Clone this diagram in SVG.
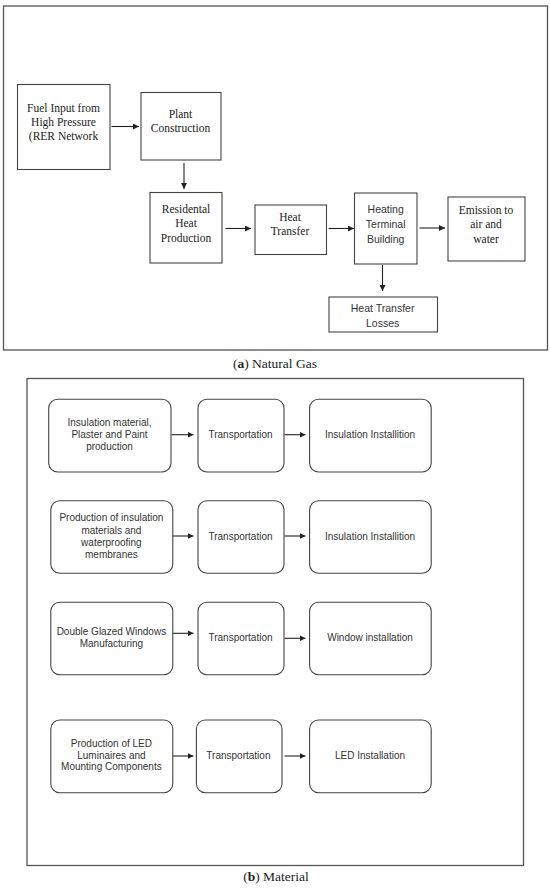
<svg xmlns="http://www.w3.org/2000/svg" width="550" height="889" viewBox="0 0 550 889">
<defs>
<marker id="ah" viewBox="0 0 10 10" refX="10" refY="5" markerWidth="6" markerHeight="6" markerUnits="userSpaceOnUse" orient="auto">
<path d="M0,0 L10,5 L0,10 z" fill="#222"/>
</marker>
<style>
.frame{fill:#fff;stroke:#555;stroke-width:1.3}
.box{fill:#fff;stroke:#444;stroke-width:1.1}
.rbox{fill:#fff;stroke:#444;stroke-width:1.1}
.con{stroke:#222;stroke-width:1.1;fill:none;marker-end:url(#ah)}
.serif{font-family:"Liberation Serif","Times New Roman",serif;font-size:11.5px;fill:#222;text-anchor:middle}
.sans{font-family:"Liberation Sans",Arial,sans-serif;font-size:10.5px;fill:#333;text-anchor:middle}
.sb{font-family:"Liberation Sans",Arial,sans-serif;font-size:10px;fill:#333;text-anchor:middle}
.cap{font-family:"Liberation Serif","Times New Roman",serif;font-size:13.5px;fill:#222;text-anchor:middle}
</style>
</defs>
<rect width="550" height="889" fill="#fff"/>

<g id="panel-a">
<rect class="frame" x="3.5" y="6" width="544" height="344"/>
</g>
<text class="cap" x="275" y="368">(<tspan font-weight="bold">a</tspan>) Natural Gas</text>

<g id="panel-b">
<rect class="frame" x="27" y="378.5" width="496.5" height="487"/>
</g>
<text class="cap" x="276" y="881">(<tspan font-weight="bold">b</tspan>) Material</text>

<g id="connectors">
<line class="con" x1="111.5" y1="126.5" x2="139" y2="126.5"/>
<line class="con" x1="184" y1="163" x2="184" y2="189"/>
<line class="con" x1="225.5" y1="228.5" x2="251" y2="228.5"/>
<line class="con" x1="328.5" y1="228.5" x2="354" y2="228.5"/>
<line class="con" x1="419.5" y1="228" x2="445" y2="228"/>
<line class="con" x1="382.5" y1="265" x2="382.5" y2="291"/>

<line class="con" x1="171.5" y1="434.7" x2="193.5" y2="434.7"/>
<line class="con" x1="284.5" y1="434.7" x2="305.5" y2="434.7"/>
<line class="con" x1="173" y1="536" x2="193.5" y2="536"/>
<line class="con" x1="284.5" y1="536" x2="305.5" y2="536"/>
<line class="con" x1="173" y1="633.3" x2="193.5" y2="633.3"/>
<line class="con" x1="284.5" y1="638.3" x2="305.5" y2="638.3"/>
<line class="con" x1="173" y1="756" x2="193.5" y2="756"/>
<line class="con" x1="284.5" y1="756" x2="305.5" y2="756"/>
</g>

<g id="fuel-input">
<rect class="box" x="17.5" y="84.5" width="92.5" height="85"/>
<text class="serif" x="63.5" y="111.5">Fuel Input from</text>
<text class="serif" x="63.5" y="126">High Pressure</text>
<text class="serif" x="63.5" y="140">(RER Network</text>
</g>
<g id="plant-construction">
<rect class="box" x="141" y="92.5" width="80" height="67.5"/>
<text class="serif" x="180.5" y="118">Plant</text>
<text class="serif" x="180.5" y="132">Construction</text>
</g>
<g id="residental-heat-production">
<rect class="box" x="150" y="192.5" width="72" height="70.5"/>
<text class="serif" x="186" y="212.5">Residental</text>
<text class="serif" x="186" y="227">Heat</text>
<text class="serif" x="186" y="241.5">Production</text>
</g>
<g id="heat-transfer">
<rect class="box" x="255" y="205" width="71.5" height="49.5"/>
<text class="serif" x="290" y="221">Heat</text>
<text class="serif" x="290" y="235">Transfer</text>
</g>
<g id="heating-terminal-building">
<rect class="box" x="354.5" y="193" width="62.5" height="71"/>
<text class="sans" x="385.7" y="213">Heating</text>
<text class="sans" x="385.7" y="228">Terminal</text>
<text class="sans" x="385.7" y="243">Building</text>
</g>
<g id="emission">
<rect class="box" x="448" y="197" width="77" height="64"/>
<text class="serif" x="486" y="214">Emission to</text>
<text class="serif" x="486" y="228">air and</text>
<text class="serif" x="486" y="242.5">water</text>
</g>
<g id="heat-transfer-losses">
<rect class="box" x="329" y="297" width="108.5" height="35"/>
<text class="sans" x="382.6" y="311.5">Heat Transfer</text>
<text class="sans" x="382.6" y="326.5">Losses</text>
</g>

<g id="b1-1">
<rect class="rbox" x="48.7" y="399.3" width="122.3" height="72.7" rx="9"/>
<text class="sb" x="109.5" y="426">Insulation material,</text>
<text class="sb" x="109.5" y="438">Plaster and Paint</text>
<text class="sb" x="109.5" y="450">production</text>
</g>
<g id="b1-2">
<rect class="rbox" x="198" y="399.3" width="86" height="72.7" rx="9"/>
<text class="sb" x="240.5" y="438.3">Transportation</text>
</g>
<g id="b1-3">
<rect class="rbox" x="309.6" y="399.3" width="121.6" height="72.7" rx="9"/>
<text class="sb" x="370" y="438.3">Insulation Installition</text>
</g>

<g id="b2-1">
<rect class="rbox" x="50.8" y="500.7" width="122" height="72.6" rx="9"/>
<text class="sb" x="111.4" y="521.3">Production of insulation</text>
<text class="sb" x="111.4" y="533.8">materials and</text>
<text class="sb" x="111.4" y="545.9">waterproofing</text>
<text class="sb" x="111.4" y="558">membranes</text>
</g>
<g id="b2-2">
<rect class="rbox" x="198" y="500.7" width="86" height="72.6" rx="9"/>
<text class="sb" x="240.5" y="539.6">Transportation</text>
</g>
<g id="b2-3">
<rect class="rbox" x="309.6" y="500.7" width="121.6" height="72.6" rx="9"/>
<text class="sb" x="370" y="539.6">Insulation Installition</text>
</g>

<g id="b3-1">
<rect class="rbox" x="50.8" y="602.3" width="122" height="72.4" rx="9"/>
<text class="sb" x="111.4" y="634.6">Double Glazed Windows</text>
<text class="sb" x="111.4" y="646.9">Manufacturing</text>
</g>
<g id="b3-2">
<rect class="rbox" x="198" y="602.3" width="86" height="72.4" rx="9"/>
<text class="sb" x="240.5" y="640.9">Transportation</text>
</g>
<g id="b3-3">
<rect class="rbox" x="309.6" y="602.3" width="121.6" height="72.4" rx="9"/>
<text class="sb" x="370" y="640.9">Window installation</text>
</g>

<g id="b4-1">
<rect class="rbox" x="50.8" y="720" width="122" height="72.7" rx="9"/>
<text class="sb" x="111.4" y="746.6">Production of LED</text>
<text class="sb" x="111.4" y="758.9">Luminaires and</text>
<text class="sb" x="111.4" y="770.3">Mounting Components</text>
</g>
<g id="b4-2">
<rect class="rbox" x="196.4" y="720" width="85.6" height="72.7" rx="9"/>
<text class="sb" x="238.4" y="758.9">Transportation</text>
</g>
<g id="b4-3">
<rect class="rbox" x="309.6" y="720" width="121.6" height="72.7" rx="9"/>
<text class="sb" x="370" y="758.9">LED Installation</text>
</g>
</svg>
